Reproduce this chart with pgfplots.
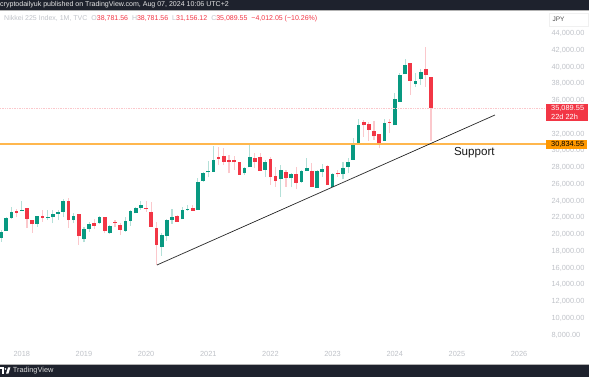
\documentclass[border=0pt]{standalone}
\usepackage{pgfplots}
\usepackage{pgfplotstable}
\usepackage{fontspec}
\setmainfont{Liberation Sans}
\pgfplotsset{compat=1.18}
\definecolor{tvdark}{HTML}{1E222D}
\definecolor{tvgreen}{HTML}{089981}
\definecolor{tvred}{HTML}{F23645}
\definecolor{wickgreen}{HTML}{B4E0D8}
\definecolor{wickred}{HTML}{FBC8CC}
\definecolor{ticktext}{HTML}{BFC2C8}
\definecolor{orangeline}{HTML}{FFB74D}
\definecolor{orangebox}{HTML}{FF9800}
\pgfplotstableread{
m o h l c
-4 19560 20500 19145 20300
-3 20400 22100 20400 21950
-2 21950 23300 21900 22650
0 22850 24000 22850 22930
3 21250 22250 20940 22250
5 21970 22930 21730 22130
6 22050 22930 21340 22410
7 22490 22930 21730 22690
8 22690 24240 22050 23960
10 21730 22530 21340 22210
12 19460 20940 19060 20620
13 20660 21530 20340 21250
15 21340 22250 21220 22130
17 20140 21130 20060 21050
20 20420 22050 20340 21570
21 21610 22930 21020 22810
22 22530 23245 22530 23125
23 23205 23960 22930 23480
27 18468 20140 17434 19980
28 19820 21810 19260 21732
29 21732 23005 21254 22130
31 21812 23245 21812 22966
32 22926 23483 22807 23045
34 22926 26707 22926 26309
35 26428 27503 26309 27384
36 27424 28816 26826 27622
37 27503 30568 27503 28856
43 27304 28100 27105 27981
44 28021 30687 28021 29294
47 27702 28896 26906 28617
50 26627 28299 24518 27702
52 26707 27304 25632 27185
54 26309 27702 26190 27583
55 27623 29095 27623 27981
57 25553 27702 25553 27583
58 27503 28378 26906 27822
60 25633 27304 25633 27185
62 27185 28617 26588 27901
63 28060 29095 27384 28697
64 28896 31483 28896 30767
65 30687 33750 30687 33075
70 31165 33752 31165 33354
72 33035 36936 33035 36179
73 35861 39244 35861 39045
74 39125 40955 39125 40239
76 38010 39244 37572 38368
77 38607 39722 37851 39443
}\upcandles
\pgfplotstableread{
m o h l c
-1 22800 23100 22050 22600
1 23125 23150 20777 21850
2 21730 21750 20220 21250
4 22250 22930 21530 22010
9 24000 24320 20780 21730
11 22450 22500 18750 19820
14 21340 21810 20700 21020
16 22050 22130 20140 20420
18 21530 21730 20860 21370
19 21130 21340 19900 20540
24 23205 23960 22730 23085
25 22730 23920 20936 20936
26 20737 21530 16358 18747
30 22170 22330 21533 21533
33 23125 23523 22807 22807
38 29294 30408 28299 29055
39 29374 30289 28299 28697
40 28856 29493 27304 28697
41 28856 29374 27702 28617
42 28697 28697 27105 27145
45 29095 29692 27901 28697
46 29215 29772 27583 27583
48 28976 29215 25911 26826
49 26986 28100 25712 26388
51 27463 27702 25712 26707
53 27185 28020 25394 26190
56 27623 28498 25712 25712
59 28180 28299 25911 25911
61 27384 27702 26906 27185
66 33393 33672 31700 33035
67 33194 33473 31165 32478
68 32359 33553 31284 31722
69 31960 31960 30290 30687
71 33433 33752 32080 33354
75 40518 40518 36657 38329
78 39722 42348 37652 39045
79 38781.56 38781.56 31156.12 35089.55
}\downcandles
\begin{document}
\begin{tikzpicture}
\useasboundingbox (0,0) rectangle (589pt,377pt);
\begin{axis}[
  at={(0,29pt)}, anchor=south west,
  width=546pt, height=337pt, scale only axis,
  xmin=-4.208, xmax=101.2, ymin=6449, ymax=46687,
  axis line style={draw=none},
  tick style={draw=none},
  major tick length=0pt,
  scaled y ticks=false,
  xtick={0,12,24,36,48,60,72,84,96},
  xticklabels={2018,2019,2020,2021,2022,2023,2024,2025,2026},
  ytick={8000,10000,12000,14000,16000,18000,20000,22000,24000,26000,28000,30000,32000,36000,38000,40000,42000,44000},
  yticklabel pos=right,
  /pgf/number format/fixed,
  /pgf/number format/fixed zerofill,
  /pgf/number format/precision=2,
  /pgf/number format/1000 sep={,},
  /pgf/number format/assume math mode=true,
  yticklabel style={anchor=west, xshift=2pt, font=\fontsize{7.4}{8}\selectfont, text=ticktext},
  xticklabel style={anchor=base, yshift=-9pt, font=\fontsize{7.4}{8}\selectfont, text=ticktext},
  error bars/error mark=none,
]
% wicks
\addplot[draw=none, no marks, error bars/.cd, y dir=plus, y explicit,
  error bar style={draw=wickgreen, line width=1.1pt}]
  table[x=m, y=l, y error plus expr=\thisrow{h}-\thisrow{l}] {\upcandles};
\addplot[draw=none, no marks, error bars/.cd, y dir=plus, y explicit,
  error bar style={draw=wickred, line width=1.1pt}]
  table[x=m, y=l, y error plus expr=\thisrow{h}-\thisrow{l}] {\downcandles};
% bodies
\addplot[draw=none, no marks, error bars/.cd, y dir=plus, y explicit,
  error bar style={draw=tvgreen, line width=3.7pt}]
  table[x=m, y=o, y error plus expr=\thisrow{c}-\thisrow{o}] {\upcandles};
\addplot[draw=none, no marks, error bars/.cd, y dir=plus, y explicit,
  error bar style={draw=tvred, line width=3.7pt}]
  table[x=m, y=c, y error plus expr=\thisrow{o}-\thisrow{c}] {\downcandles};
% price line, support, trend
\addplot[draw=wickred, line width=0.7pt, densely dotted, no marks] coordinates {(-4.208,35089.55) (101.2,35089.55)};
\addplot[draw=orangeline, line width=1.5pt, no marks] coordinates {(-4.208,30834.55) (101.2,30834.55)};
\addplot[draw=black!85, line width=0.7pt, no marks] coordinates {(26.1,16360) (91.35,34270)};
\node[anchor=west, font=\fontsize{11.6}{14}\selectfont, text=black!90, inner sep=0pt] at (axis cs:83.4,29720) {Support};
\end{axis}
\begin{scope}[x=1pt,y=-1pt,shift={(0pt,377pt)}]
\fill[tvdark] (0,0) rectangle (589,10);
\draw[black!30, line width=0.6pt] (0,10.5) -- (589,10.5);
\node[anchor=west, inner sep=0pt, text=white!90!black, font=\fontsize{7.05}{8}\selectfont] at (0,4.8) {cryptodailyuk published on TradingView.com, Aug 07, 2024 10:06 UTC+2};
\node[anchor=west, inner sep=0pt, font=\fontsize{7}{8}\selectfont] at (4,18.6) {\textcolor{ticktext}{Nikkei 225 Index, 1M, TVC}\hspace{4pt}\textcolor{ticktext}{O}\textcolor{tvred}{38,781.56}\hspace{4pt}\textcolor{ticktext}{H}\textcolor{tvred}{38,781.56}\hspace{4pt}\textcolor{ticktext}{L}\textcolor{tvred}{31,156.12}\hspace{4pt}\textcolor{ticktext}{C}\textcolor{tvred}{35,089.55}\hspace{4pt}\textcolor{tvred}{−4,012.05 (−10.26\%)}};
\fill[white] (549,13) rectangle (588,26);
\draw[black!6, line width=0.5pt] (549,13) rectangle (588,26);
\node[inner sep=0pt, text=black!70, font=\fontsize{6.5}{8}\selectfont] at (558.5,19.5) {JPY};
\fill[tvred] (545.5,104.5) rectangle (588,121.5);
\node[anchor=west, inner sep=0pt, text=white, font=\fontsize{7.4}{8}\selectfont] at (551,108.8) {35,089.55};
\node[anchor=west, inner sep=0pt, text=white, font=\fontsize{7.4}{8}\selectfont] at (551,116.6) {22d 22h};
\fill[orangebox] (546,140) rectangle (587,149);
\node[anchor=west, inner sep=0pt, text=black, font=\fontsize{7.4}{8}\selectfont] at (551,144.6) {30,834.55};
\draw[black!30, line width=0.6pt] (0,364.5) -- (589,364.5);
\fill[tvdark] (0,365) rectangle (589,377);
\fill[white] (0,367.5) rectangle (4.4,369.2);
\fill[white] (2,367.5) rectangle (4.4,373.6);
\fill[white] (5.4,369) circle (0.9);
\fill[white] (6,373.6) -- (8,367.5) -- (10.4,367.5) -- (8.4,373.6) -- cycle;
\node[anchor=west, inner sep=0pt, text=white!85!black, font=\fontsize{7.4}{8}\selectfont] at (12.6,371) {TradingView};
\end{scope}
\end{tikzpicture}
\end{document}
